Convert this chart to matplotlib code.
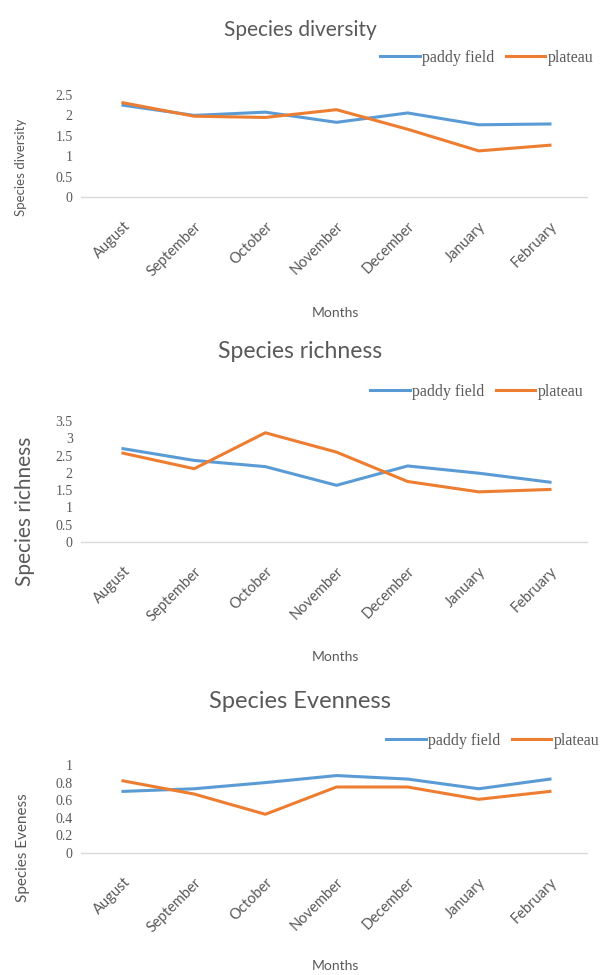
import numpy as np
import matplotlib
matplotlib.use('Agg')
import matplotlib.pyplot as plt

months = ['August', 'September', 'October', 'November', 'December', 'January', 'February']

diversity_paddy = [2.25, 2.00, 2.08, 1.83, 2.06, 1.77, 1.79]
diversity_plateau = [2.31, 1.98, 1.95, 2.14, 1.66, 1.13, 1.27]

richness_paddy = [2.70, 2.36, 2.18, 1.64, 2.20, 1.99, 1.73]
richness_plateau = [2.57, 2.12, 3.16, 2.60, 1.75, 1.45, 1.52]

evenness_paddy = [0.70, 0.73, 0.80, 0.88, 0.84, 0.73, 0.84]
evenness_plateau = [0.82, 0.67, 0.44, 0.75, 0.75, 0.61, 0.70]

blue = '#5B9BD5'
orange = '#ED7D31'
grey = '#595959'

W, H = 601, 975
fig = plt.figure(figsize=(W / 100, H / 100), dpi=100)


def px(x, y):
    return x / W, 1 - y / H


def panel(bottom_px, top_px, ymax, ystep, paddy, plateau, title, title_y, title_fs,
          ylabel, ylabel_x, ylabel_y, ylabel_fs, leg_y, leg_x, months_y, yfmt):
    left, width = 81 / W, 506 / W
    ax = fig.add_axes([left, 1 - bottom_px / H, width, (bottom_px - top_px) / H])
    x = np.arange(len(months))
    ax.plot(x, paddy, color=blue, lw=2.2, label='paddy field', solid_joinstyle='round')
    ax.plot(x, plateau, color=orange, lw=2.2, label='plateau', solid_joinstyle='round')
    ax.set_xlim(-0.59, 6.52)
    ax.set_ylim(0, ymax)
    ticks = np.arange(0, ymax + ystep / 2, ystep)
    ax.set_yticks(ticks)
    ax.set_yticklabels([yfmt(t) for t in ticks], family='Liberation Serif',
                       fontsize=10, color=grey)
    ax.set_xticks(x)
    ax.set_xticklabels(months, rotation=45, ha='right', rotation_mode='anchor',
                       fontsize=10.5, color=grey, family='Lato')
    ax.tick_params(length=0)
    ax.tick_params(axis='x', pad=16)
    ax.tick_params(axis='y', pad=6)
    for s in ['top', 'right', 'left']:
        ax.spines[s].set_visible(False)
    ax.spines['bottom'].set_color('#d9d9d9')
    ax.spines['bottom'].set_linewidth(1.0)
    ax.patch.set_alpha(0)

    tx, ty = px(300, title_y)
    fig.text(tx, ty, title, ha='center', va='center', fontsize=title_fs,
             color=grey, family='Lato')
    lx, ly = px(ylabel_x, ylabel_y)
    fig.text(lx, ly, ylabel, rotation=90, ha='center', va='center',
             fontsize=ylabel_fs, color=grey, family='Lato')
    mx, my = px(335, months_y)
    fig.text(mx, my, 'Months', ha='center', va='center', fontsize=10,
             color=grey, family='Lato')
    bx, by = px(leg_x, leg_y)
    ax.legend(loc='center right', bbox_to_anchor=(bx, by), bbox_transform=fig.transFigure,
              ncol=2, frameon=False, handlelength=2.5, handletextpad=0.15,
              columnspacing=0.7, prop={'family': 'Liberation Serif', 'size': 11.5},
              labelcolor=grey, borderaxespad=0)
    return ax


def fmt_half(t):
    return '%g' % t


panel(197, 95, 2.5, 0.5, diversity_paddy, diversity_plateau,
      'Species diversity', 30, 15, 'Species diversity', 21, 167, 9.5,
      58, 600, 313, fmt_half)

panel(542, 421, 3.5, 0.5, richness_paddy, richness_plateau,
      'Species richness', 352, 16.5, 'Species richness', 25, 511, 15,
      392, 590, 657, fmt_half)

panel(853, 765, 1.0, 0.2, evenness_paddy, evenness_plateau,
      'Species Evenness', 702, 17, 'Species Eveness', 23, 848, 11,
      741, 606, 966, lambda t: '%g' % round(t, 1))

fig.savefig('out.png', dpi=100)
